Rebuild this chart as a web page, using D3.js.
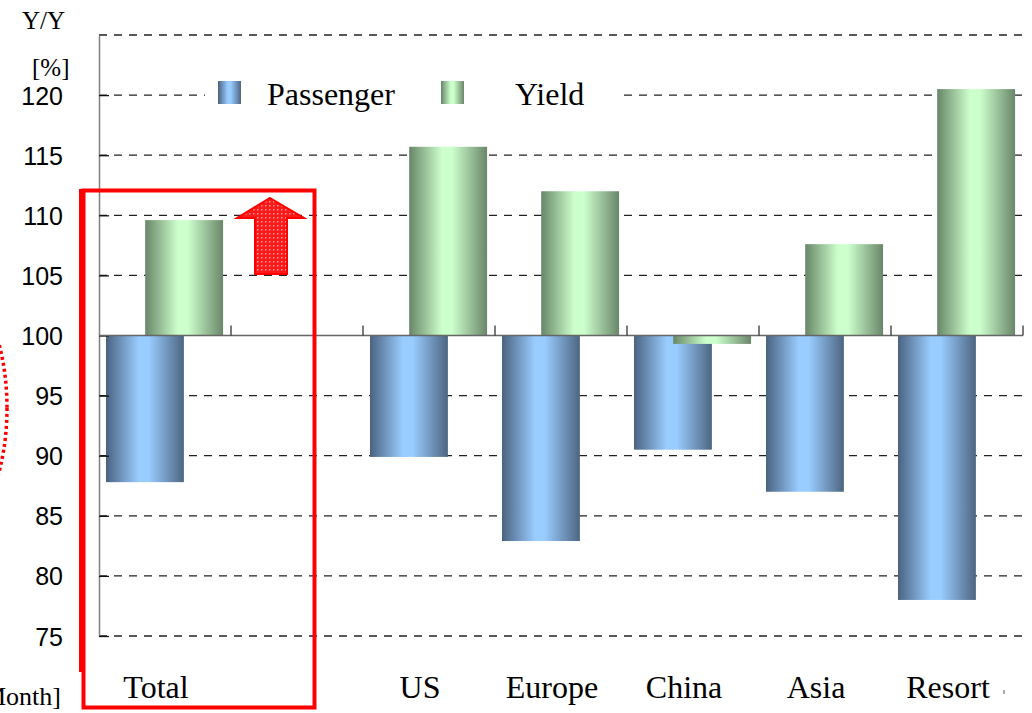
<!DOCTYPE html>
<html>
<head>
<meta charset="utf-8">
<script src="https://cdn.jsdelivr.net/npm/d3@7"></script>
<style>
  html, body { margin: 0; padding: 0; background: #ffffff; }
  svg { display: block; }
</style>
</head>
<body>
<svg id="chart" width="1032" height="713"></svg>
<script>
// Year-over-year index by route group (previous year = 100)
const categories = ["Total", "", "US", "Europe", "China", "Asia", "Resort"];
const passenger  = [87.8, null, 89.9, 82.9, 90.5, 87.0, 78.0];
const yieldVals  = [109.6, null, 115.7, 112.0, 99.3, 107.6, 120.5];
const yTicks     = [75, 80, 85, 90, 95, 100, 105, 110, 115, 120];
const gridLevels = [75, 80, 85, 90, 95, 105, 110, 115, 120, 125];
const seriesNames = ["Passenger", "Yield"];

const svg = d3.select("#chart");
const serif = "'Liberation Serif', 'Times New Roman', serif";
const sans  = "'Liberation Sans', Arial, sans-serif";

const x = d3.scaleBand().domain(categories).range([99, 1023]).padding(0);
const y = d3.scaleLinear().domain([75, 125]).range([636, 35]);
const bw = x.bandwidth();

// bar gradients: dark edges, light centre
const defs = svg.append("defs");
function barGradient(id, dark, light, dark2) {
  const g = defs.append("linearGradient").attr("id", id)
    .attr("x1", "0%").attr("x2", "100%").attr("y1", "0%").attr("y2", "0%");
  g.append("stop").attr("offset", "0%").attr("stop-color", dark);
  g.append("stop").attr("offset", "42%").attr("stop-color", light);
  g.append("stop").attr("offset", "55%").attr("stop-color", light);
  g.append("stop").attr("offset", "100%").attr("stop-color", dark2);
}
barGradient("gPass", "#4a6280", "#99ccff", "#4d6582");
barGradient("gYield", "#688668", "#ccffcc", "#6a866a");

// dotted red fill for the arrow
const pat = defs.append("pattern").attr("id", "dots")
  .attr("width", 4).attr("height", 4).attr("patternUnits", "userSpaceOnUse");
pat.append("rect").attr("width", 4).attr("height", 4).attr("fill", "#ff1a1a");
pat.append("rect").attr("x", 1).attr("y", 1).attr("width", 1.5).attr("height", 1.5).attr("fill", "#ff9a9a");

// dashed grid
svg.append("g").selectAll("line").data(gridLevels).join("line")
  .attr("x1", x.range()[0]).attr("x2", x.range()[1] + 1)
  .attr("y1", d => y(d)).attr("y2", d => y(d))
  .attr("stroke", "#222").attr("stroke-width", 1.3)
  .attr("stroke-dasharray", "8,7");

// bars
const rows = categories.map((c, i) => ({ c, p: passenger[i], v: yieldVals[i] }));
svg.append("g").selectAll("rect").data(rows.filter(d => d.p != null)).join("rect")
  .attr("x", d => x(d.c) + bw * 0.053)
  .attr("width", bw * 0.59)
  .attr("y", d => Math.min(y(d.p), y(100)))
  .attr("height", d => Math.abs(y(d.p) - y(100)))
  .attr("fill", "url(#gPass)");
svg.append("g").selectAll("rect").data(rows.filter(d => d.v != null)).join("rect")
  .attr("x", d => x(d.c) + bw * 0.35)
  .attr("width", bw * 0.59)
  .attr("y", d => Math.min(y(d.v), y(100)))
  .attr("height", d => Math.abs(y(d.v) - y(100)))
  .attr("fill", "url(#gYield)");

// value axis
const yAxis = d3.axisLeft(y).tickValues(yTicks).tickSizeInner(-10).tickSizeOuter(0).tickPadding(36);
const ya = svg.append("g").attr("transform", `translate(${x.range()[0]},0)`).call(yAxis);
ya.select(".domain").attr("stroke", "#808080").attr("stroke-width", 1.5);
ya.selectAll(".tick line").attr("stroke", "#111").attr("stroke-width", 1.3);
ya.selectAll(".tick text").attr("font-family", sans).attr("font-size", 25).attr("fill", "#000").attr("dy", "0.36em");

// category baseline at 100 with upward ticks
const base = svg.append("g");
base.append("line").attr("x1", x.range()[0]).attr("x2", x.range()[1])
  .attr("y1", y(100)).attr("y2", y(100)).attr("stroke", "#666").attr("stroke-width", 1.6);
const bounds = categories.slice(1).map(c => x(c)).concat([x.range()[1]]);
base.selectAll("line.tk").data(bounds).join("line").attr("class", "tk")
  .attr("x1", d => d).attr("x2", d => d)
  .attr("y1", y(100)).attr("y2", y(100) - 10)
  .attr("stroke", "#333").attr("stroke-width", 1.3);

// category labels
svg.append("g").selectAll("text").data(categories).join("text")
  .attr("x", d => x(d) + bw / 2 - 9)
  .attr("y", 698)
  .attr("text-anchor", "middle")
  .attr("font-family", serif).attr("font-size", 32)
  .text(d => d);
svg.append("line").attr("x1", 1004).attr("x2", 1004).attr("y1", 690).attr("y2", 694)
  .attr("stroke", "#555").attr("stroke-width", 1);

// axis titles
svg.append("text").attr("x", 22).attr("y", 29).attr("font-family", serif).attr("font-size", 25).text("Y/Y");
svg.append("text").attr("x", 32).attr("y", 76).attr("font-family", serif).attr("font-size", 25).text("[%]");
svg.append("text").attr("x", 61).attr("y", 705).attr("text-anchor", "end")
  .attr("font-family", serif).attr("font-size", 26).text("[Month]");

// legend on a white panel over the grid
const legend = svg.append("g");
legend.append("rect").attr("x", 205).attr("y", 72).attr("width", 412).attr("height", 46).attr("fill", "#ffffff");
const legendItems = [
  { name: seriesNames[0], fill: "url(#gPass)", sx: 218, tx: 267 },
  { name: seriesNames[1], fill: "url(#gYield)", sx: 441, tx: 515 }
];
legend.selectAll("rect.sw").data(legendItems).join("rect").attr("class", "sw")
  .attr("x", d => d.sx).attr("y", 81).attr("width", 23).attr("height", 23)
  .attr("fill", d => d.fill);
legend.selectAll("text").data(legendItems).join("text")
  .attr("x", d => d.tx).attr("y", 105)
  .attr("font-family", serif).attr("font-size", 32)
  .text(d => d.name);

// red highlight box around Total
const red = "#ff0000";
svg.append("rect").attr("x", 83.5).attr("y", 190.5).attr("width", 231).attr("height", 517)
  .attr("fill", "none").attr("stroke", red).attr("stroke-width", 4);
svg.append("line").attr("x1", 81).attr("x2", 81).attr("y1", 189).attr("y2", 672)
  .attr("stroke", red).attr("stroke-width", 4);

// upward arrow
svg.append("path")
  .attr("d", "M270,198 L304,218 L287,218 L287,274 L255,274 L255,218 L237,218 Z")
  .attr("fill", "url(#dots)").attr("stroke", red).attr("stroke-width", 2).attr("stroke-linejoin", "miter");

// dotted arc at the left edge
svg.append("ellipse").attr("cx", -45).attr("cy", 408).attr("rx", 52).attr("ry", 120)
  .attr("fill", "none").attr("stroke", red).attr("stroke-width", 3.5)
  .attr("stroke-dasharray", "3,3");
</script>
</body>
</html>
